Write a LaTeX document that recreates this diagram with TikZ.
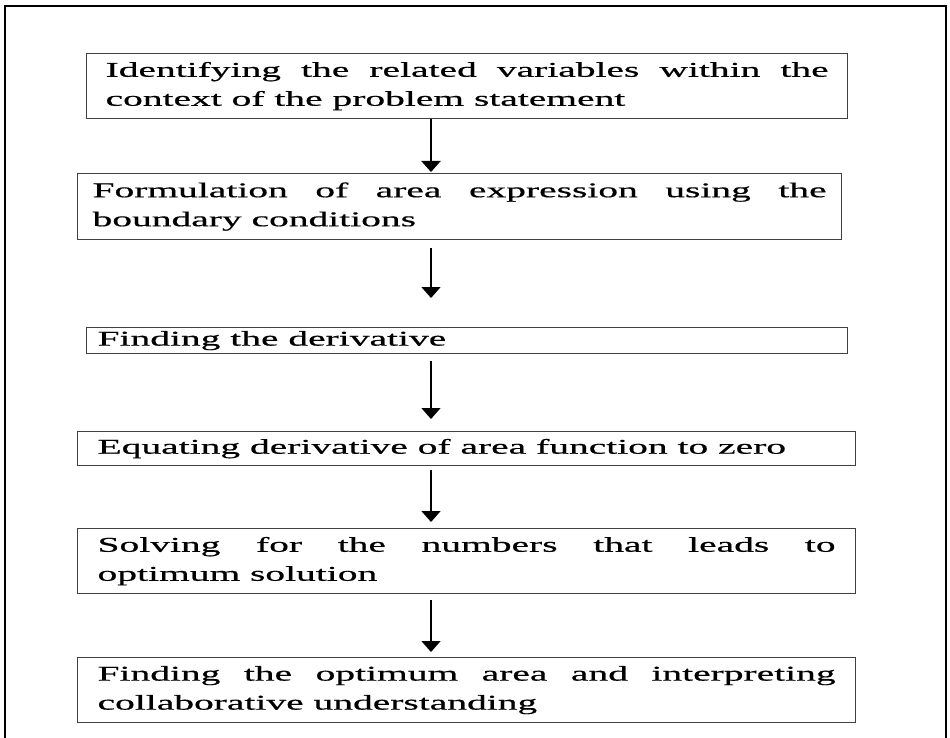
\documentclass[tikz,border=0pt]{standalone}
\usepackage{fontspec}
\setmainfont{Liberation Serif}[FakeStretch=1.88,FakeBold=0.6]
\usetikzlibrary{arrows.meta}

\begin{document}
\begin{tikzpicture}[x=1pt,y=-1pt,
	stepbox/.style={draw=black!75, line width=1.2pt, anchor=north west,
		align=justify, inner ysep=0pt, font=\fontsize{21}{29}\selectfont},
	flow/.style={-{Triangle[length=11pt,width=19pt]}, line width=1.6pt}]
	\useasboundingbox (0,0) rectangle (950,738);
	% outer frame, open at the bottom
	\draw[line width=2pt] (5,738) -- (5,6) -- (946,6) -- (946,738);

	\node[stepbox, inner xsep=19pt, text width=723pt, minimum height=65pt] (ident) at (86,53)
		{Identifying the related variables within the\linebreak context of the problem statement};
	\node[stepbox, inner xsep=15pt, text width=734pt, minimum height=66pt] (formul) at (77,173)
		{Formulation of area expression using the\linebreak boundary conditions};
	\node[stepbox, inner xsep=11pt, text width=739pt, minimum height=26pt] (deriv) at (86,327)
		{Finding the derivative};
	\node[stepbox, inner xsep=20pt, text width=738pt, minimum height=34pt] (equat) at (77,431)
		{Equating derivative of area function to zero};
	\node[stepbox, inner xsep=20pt, text width=738pt, minimum height=65pt] (solve) at (77,528)
		{Solving for the numbers that leads to\linebreak optimum solution};
	\node[stepbox, inner xsep=20pt, text width=738pt, minimum height=65pt] (optim) at (77,657)
		{Finding the optimum area and interpreting\linebreak collaborative understanding};

	\coordinate (spine) at (431,0);
	\path[flow]
	(ident.south -| spine)  edge[line width=2.4pt, shorten >=1pt] (formul.north -| spine)
	(formul.south -| spine) edge[shorten <=8pt, shorten >=29pt]   (deriv.north -| spine)
	(deriv.south -| spine)  edge[shorten <=7pt, shorten >=12pt]   (equat.north -| spine)
	(equat.south -| spine)  edge[shorten <=4pt, shorten >=6pt]    (solve.north -| spine)
	(solve.south -| spine)  edge[shorten <=6pt, shorten >=5pt]    (optim.north -| spine);
\end{tikzpicture}
\end{document}
